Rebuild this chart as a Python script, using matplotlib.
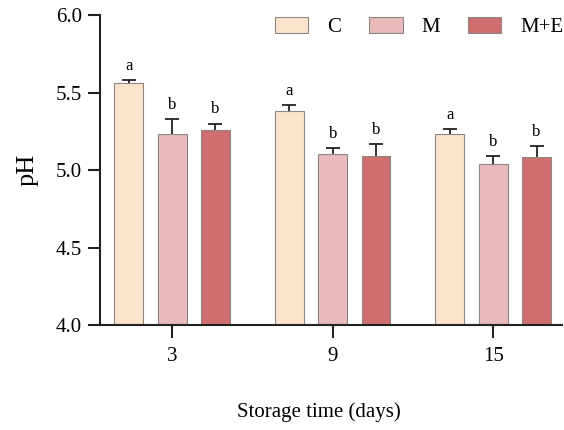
import numpy as np
import matplotlib
matplotlib.use("Agg")
import matplotlib.pyplot as plt

days = ["3", "9", "15"]
groups = ["C", "M", "M+E"]
ph_c = [5.56, 5.38, 5.235]
ph_m = [5.232, 5.105, 5.04]
ph_me = [5.26, 5.09, 5.086]
err_c = [0.02, 0.04, 0.03]
err_m = [0.097, 0.035, 0.05]
err_me = [0.04, 0.075, 0.07]
letters_c = ["a", "a", "a"]
letters_m = ["b", "b", "b"]
letters_me = ["b", "b", "b"]

colors = ["#FCE3CB", "#E8BBBA", "#CE6E6F"]
edge = "#8f8583"

plt.rcParams["font.family"] = ["Liberation Serif", "DejaVu Serif"]

fig = plt.figure(figsize=(5.64, 4.30), dpi=100)
ax = fig.add_axes([0.177, 0.244, 0.82, 0.721])

x = np.arange(len(days))
width = 0.18
offsets = [-0.27, 0.0, 0.27]
series = [(ph_c, err_c, letters_c), (ph_m, err_m, letters_m), (ph_me, err_me, letters_me)]

for (vals, errs, lets), off, col, name in zip(series, offsets, colors, groups):
    xs = x + off
    ax.bar(xs, vals, width=width, color=col, edgecolor=edge, linewidth=0.8, label=name, zorder=2)
    eb = ax.errorbar(xs, vals, yerr=[np.zeros(len(errs)), errs], fmt="none", ecolor="#222222",
                     elinewidth=1.3, capsize=5, capthick=1.3, zorder=1)
    # only the upper cap is shown
    eb[1][0].set_visible(False)
    for xi, v, e, l in zip(xs, vals, errs, lets):
        ax.text(xi, v + e + 0.04, l, ha="center", va="bottom", fontsize=12)

ax.set_ylim(4.0, 6.0)
ax.set_xlim(-0.45, 2.43)
ax.set_yticks([4.0, 4.5, 5.0, 5.5, 6.0])
ax.set_yticklabels(["4.0", "4.5", "5.0", "5.5", "6.0"])
ax.set_xticks(x)
ax.set_xticklabels(days)
ax.tick_params(axis="both", labelsize=15, length=9, width=1.5, direction="out", color="#222222")
ax.tick_params(axis="x", pad=7)
ax.tick_params(axis="y", pad=4)
for s in ["top", "right"]:
    ax.spines[s].set_visible(False)
for s in ["left", "bottom"]:
    ax.spines[s].set_linewidth(1.5)
    ax.spines[s].set_color("#222222")

ax.set_ylabel("pH", fontsize=19, labelpad=12)
ax.set_xlabel("Storage time (days)", fontsize=15)
ax.xaxis.set_label_coords(0.474, -0.25)

leg = ax.legend(loc="upper right", bbox_to_anchor=(1.02, 1.02), ncol=3, frameon=False, fontsize=15,
                handlelength=1.6, handleheight=0.8, columnspacing=1.35, handletextpad=0.9,
                borderaxespad=0.0)

fig.savefig("out.png", dpi=100)
